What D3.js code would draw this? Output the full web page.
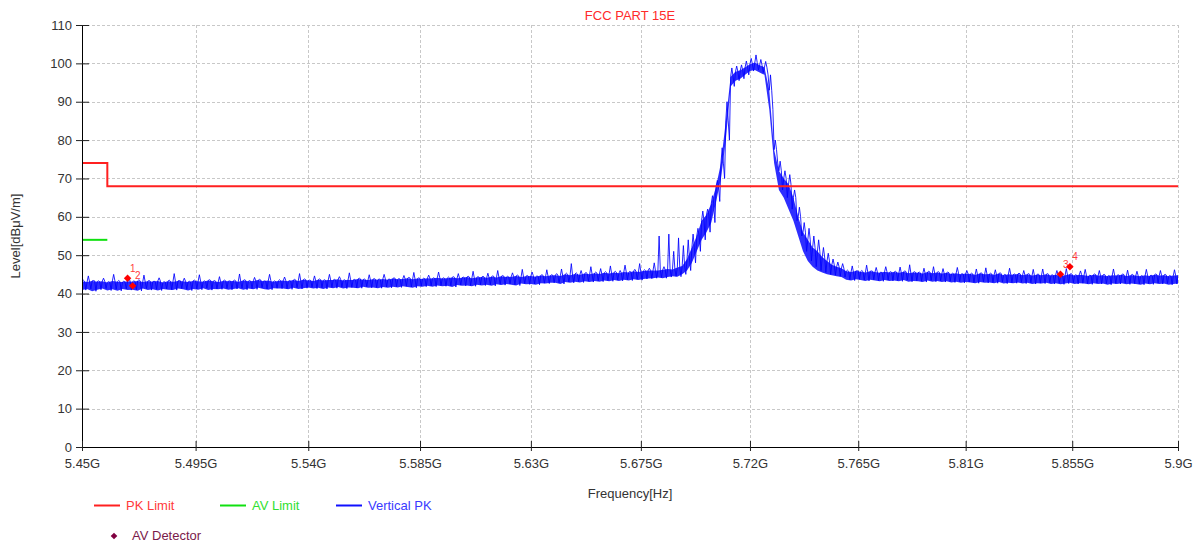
<!DOCTYPE html>
<html><head><meta charset="utf-8">
<script src="https://cdn.jsdelivr.net/npm/d3@7/dist/d3.min.js"></script>
<style>
html,body{margin:0;padding:0;background:#fff;}
svg{display:block;font-family:"Liberation Sans",Arial,sans-serif;}
</style></head>
<body><svg id="chart" width="1203" height="545"></svg>
<script>
// ---------- data ----------
const chartTitle = "FCC PART 15E";
const xTickValues = [5450,5495,5540,5585,5630,5675,5720,5765,5810,5855,5900]; // MHz
const xTickLabels = ["5.45G","5.495G","5.54G","5.585G","5.63G","5.675G","5.72G","5.765G","5.81G","5.855G","5.9G"];
const yTickValues = [0,10,20,30,40,50,60,70,80,90,100,110];

// limits (MHz, dBuV/m)
const pkLimitFreq = [5450,5460,5460,5900];
const pkLimitLevel = [74,74,68,68];
const avLimitFreq = [5450,5460];
const avLimitLevel = [54,54];

// Vertical PK trace, sampled every 2 MHz from 5450 to 5900 MHz (read from the plot):
// traceLo = bottom of the dense noise band, traceCore = top of the dense band, traceHi = spike tops
const traceStartMHz = 5450, traceStepMHz = 2;
const traceLo = [
40.9,41.2,40.6,41.0,41.3,40.8,41.1,40.7,41.2,40.9,
41.0,40.7,41.3,40.9,41.1,40.8,41.2,41.0,40.9,41.3,
41.1,40.8,41.2,41.0,41.4,40.9,41.2,41.1,41.3,41.0,
41.2,41.4,41.0,41.3,41.1,41.5,41.2,41.0,41.4,41.3,
41.3,41.1,41.5,41.2,41.4,41.6,41.3,41.5,41.2,41.6,
41.4,41.7,41.3,41.6,41.5,41.4,41.8,41.5,41.6,41.4,
41.7,41.5,41.8,41.6,41.9,41.7,41.5,41.9,41.8,42.0,
41.8,42.1,41.9,42.0,41.7,42.2,42.0,42.1,41.9,42.3,
42.1,42.3,42.0,42.4,42.2,42.5,42.3,42.1,42.6,42.4,
42.5,42.3,42.7,42.6,42.8,
42.8,42.5,43.0,42.8,43.1,42.9,43.2,43.0,43.3,43.1,
43.4,43.2,43.5,43.3,43.6,43.4,43.7,43.5,43.8,43.9,
44.0,44.2,44.0,44.3,44.5,44.4,45.0,46.0,48.0,51.0,
54.0,56.0,58.5,64.0,70.0,80.0,94.0,95.5,96.0,97.0,
98.0,98.3,97.6,97.0,88.0,74.0,67.0,65.0,62.0,59.0,
55.0,51.0,48.5,47.0,46.0,45.5,45.0,44.8,44.5,44.3,
43.6,43.4,43.7,43.5,43.3,43.6,43.4,43.2,43.5,43.3,
43.4,43.2,43.5,43.1,43.3,43.2,43.0,43.4,43.1,43.3,
43.0,43.2,42.9,43.1,42.8,43.0,42.9,42.7,43.0,42.8,
42.9,42.7,43.0,42.6,42.8,42.7,42.9,42.6,42.8,42.5,
42.7,42.6,42.8,42.5,42.7,42.4,42.6,42.8,42.5,42.7,
42.6,42.4,42.7,42.5,42.6,42.3,42.6,42.5,42.7,42.4,
42.6,42.5,42.3,42.6,42.4,42.7,42.5,42.6,42.3,42.5,42.6
];
const traceCore = [
43.2,43.0,43.3,43.1,43.2,42.9,43.3,43.1,43.0,43.2,
43.1,43.3,43.0,43.2,43.1,43.3,42.9,43.2,43.1,43.3,
43.2,43.0,43.3,43.2,43.1,43.4,43.2,43.0,43.3,43.2,
43.3,43.1,43.4,43.2,43.3,43.5,43.2,43.4,43.1,43.3,
43.4,43.2,43.5,43.3,43.6,43.4,43.3,43.6,43.4,43.5,
43.5,43.7,43.4,43.6,43.5,43.8,43.6,43.5,43.7,43.6,
43.8,43.6,43.9,43.7,43.8,44.0,43.7,43.9,43.8,44.0,
43.9,44.1,43.9,44.0,44.2,44.0,44.1,44.3,44.0,44.2,
44.3,44.1,44.4,44.2,44.5,44.3,44.4,44.6,44.3,44.5,
44.6,44.4,44.7,44.5,44.7,
44.8,44.6,45.0,44.8,45.1,44.9,45.2,45.0,45.3,45.1,
45.4,45.2,45.5,45.3,45.6,45.5,45.8,45.6,45.9,46.0,
46.0,46.0,46.2,46.4,46.3,46.8,47.2,49.0,52.0,55.0,
59.0,60.5,63.5,68.0,74.0,85.0,96.5,97.8,98.2,99.0,
99.8,100.2,99.5,99.0,93.0,77.5,72.0,70.0,68.5,65.0,
60.0,56.0,54.0,52.0,51.0,49.5,48.5,47.5,47.0,46.6,
45.8,45.6,45.9,45.7,45.5,45.8,45.6,45.4,45.7,45.5,
45.6,45.4,45.7,45.3,45.5,45.4,45.2,45.6,45.3,45.5,
45.2,45.4,45.1,45.3,45.0,45.2,45.1,44.9,45.2,45.0,
45.1,44.9,45.2,44.8,45.0,44.9,45.1,44.8,45.0,44.7,
44.9,44.8,45.0,44.7,44.9,44.6,44.8,45.0,44.7,44.9,
44.8,44.6,44.9,44.7,44.8,44.5,44.8,44.7,44.9,44.6,
44.8,44.7,44.5,44.8,44.6,44.9,44.7,44.8,44.5,44.7,44.8
];
const traceHi = [
43.5,44.6,43.4,43.3,44.0,43.1,45.0,43.4,43.2,44.3,
43.3,43.6,44.8,43.4,43.2,44.1,43.1,43.5,45.2,43.4,
44.0,43.2,43.5,44.9,43.3,43.6,43.4,44.4,43.5,43.3,
43.5,45.1,43.6,43.4,44.2,43.7,43.3,45.0,43.3,43.6,
44.3,43.4,43.7,45.2,43.8,43.5,44.6,43.8,43.6,45.0,
43.7,44.4,43.6,45.4,43.7,44.0,43.8,44.9,43.9,43.8,
45.0,43.8,44.1,43.9,44.7,44.2,45.5,44.1,44.0,44.8,
44.1,45.6,44.1,44.3,44.4,45.2,44.3,44.5,45.8,44.4,
44.5,45.3,44.6,46.0,44.7,44.5,45.4,44.8,46.3,44.7,
45.6,44.6,44.9,46.2,44.9,
45.2,46.4,45.3,47.8,45.4,46.0,45.5,47.0,45.6,46.5,
45.7,47.2,45.8,46.0,47.4,45.8,46.3,47.8,46.2,46.6,
48.0,55.0,47.0,55.5,51.0,54.5,52.5,54.0,55.5,57.0,
61.5,62.0,65.5,69.5,78.0,90.0,98.8,99.3,99.6,100.6,
101.3,102.2,101.0,100.5,97.0,80.0,74.5,72.0,71.0,67.0,
62.5,58.5,57.0,55.0,54.0,52.0,50.5,49.0,48.2,47.8,
46.1,47.2,45.9,46.0,47.4,45.9,46.8,45.6,47.0,45.7,
45.8,46.9,45.9,47.5,45.7,45.6,46.6,45.8,47.0,45.7,
46.5,45.6,45.3,46.8,45.2,46.0,45.3,46.4,45.4,46.7,
45.3,46.2,45.4,45.0,46.6,45.1,45.3,46.0,45.2,46.3,
45.1,46.4,45.2,44.9,46.0,44.8,46.5,45.2,44.9,45.9,
46.3,44.8,45.1,46.0,45.0,44.7,46.4,44.9,45.1,46.1,
45.0,45.8,44.7,46.3,44.8,45.1,46.0,45.0,44.7,46.2,45.0
];

// AV detector markers
const markerIds = ["1","2","3","4"];
const markerFreq = [5468,5470,5850,5854];
const markerLevel = [44.0,42.0,45.0,47.0];

// legend
const legendNames = ["PK Limit","AV Limit","Vertical PK","AV Detector"];

// ---------- drawing ----------
(function(){
const svg = d3.select("#chart");
const pL = 82, pR = 1178, pT = 25, pB = 447;
const x = d3.scaleLog().domain([5450,5900]).range([pL,pR]);
const y = d3.scaleLinear().domain([0,110]).range([pB,pT]);

const axisColor = "#000";
const labelColor = "#333";

// grid
const grid = svg.append("g");
grid.selectAll("line.h").data(yTickValues.filter(d=>d>0)).enter().append("line")
  .attr("x1",pL).attr("x2",pR).attr("y1",d=>Math.round(y(d))+0.5).attr("y2",d=>Math.round(y(d))+0.5)
  .attr("stroke","#c8c8c8").attr("stroke-dasharray","3,2").attr("stroke-width",1);
grid.selectAll("line.v").data(xTickValues.slice(1)).enter().append("line")
  .attr("x1",d=>Math.round(x(d))+0.5).attr("x2",d=>Math.round(x(d))+0.5).attr("y1",pT).attr("y2",pB)
  .attr("stroke","#c8c8c8").attr("stroke-dasharray","3,2").attr("stroke-width",1);

// clip
svg.append("clipPath").attr("id","plotclip").append("rect")
  .attr("x",pL).attr("y",pT-5).attr("width",pR-pL).attr("height",pB-pT+5);

// trace
const traceFreq = traceHi.map((_,i)=>traceStartMHz + i*traceStepMHz);
const pts = traceFreq.map((f,i)=>({f,hi:traceHi[i],core:traceCore[i],lo:traceLo[i]}));
const plot = svg.append("g").attr("clip-path","url(#plotclip)");
// dense band
plot.append("path").datum(pts)
  .attr("d", d3.area().x(d=>x(d.f)).y0(d=>y(d.lo)).y1(d=>y(d.core)))
  .attr("fill","#1c1cff").attr("fill-opacity",0.92);
// spikes
const spikes = [];
pts.forEach(d=>{
  spikes.push([d.f, d.core]);
  spikes.push([d.f+0.5, d.hi]);
  spikes.push([d.f+1, d.core]);
  spikes.push([d.f+1.5, d.lo]);
});
plot.append("path").datum(spikes)
  .attr("d", d3.line().x(d=>x(d[0])).y(d=>y(d[1])))
  .attr("fill","none").attr("stroke","#0000ff").attr("stroke-width",1).attr("stroke-opacity",0.85);

// limits
const limLine = d3.line().x(d=>x(d[0])).y(d=>y(d[1]));
plot.append("path").datum(pkLimitFreq.map((f,i)=>[f,pkLimitLevel[i]]))
  .attr("d",limLine).attr("fill","none").attr("stroke","#ff2020").attr("stroke-width",2);
plot.append("path").datum(avLimitFreq.map((f,i)=>[f,avLimitLevel[i]]))
  .attr("d",limLine).attr("fill","none").attr("stroke","#10e010").attr("stroke-width",2);

// axes
const yAxis = d3.axisLeft(y).tickValues(yTickValues).tickSize(6).tickPadding(4);
const gy = svg.append("g").attr("transform",`translate(${pL},0)`).call(yAxis);
gy.select(".domain").attr("stroke",axisColor).attr("d",`M0.5,${pT}V${pB}`);
gy.selectAll(".tick line").attr("x1",7).attr("x2",-6).attr("stroke","#222");
gy.selectAll(".tick text").attr("fill",labelColor).attr("font-size",13).attr("font-family","Liberation Sans, Arial, sans-serif");

const xAxis = d3.axisBottom(x).tickValues(xTickValues).tickFormat((d,i)=>xTickLabels[i]).tickSize(4).tickPadding(8);
const gx = svg.append("g").attr("transform",`translate(0,${pB})`).call(xAxis);
gx.select(".domain").attr("stroke",axisColor).attr("d",`M${pL},0.5H${pR}`);
gx.selectAll(".tick line").attr("y1",-6).attr("y2",4).attr("stroke","#222");
gx.selectAll(".tick text").attr("fill",labelColor).attr("font-size",13).attr("font-family","Liberation Sans, Arial, sans-serif");

// markers
const mk = svg.append("g");
markerFreq.forEach((f,i)=>{
  mk.append("path").attr("d",d3.symbol().type(d3.symbolSquare).size(28)())
    .attr("transform",`translate(${x(f)},${y(markerLevel[i])}) rotate(45)`).attr("fill","#ff0000");
  mk.append("text").attr("x",x(f)+2.5).attr("y",y(markerLevel[i])-6.5)
    .attr("font-size",10).attr("fill","#ff3b3b").text(markerIds[i]);
});

// title and axis titles
svg.append("text").attr("x",(pL+pR)/2).attr("y",20).attr("text-anchor","middle")
  .attr("font-size",13).attr("fill","#ff2a2a").text(chartTitle);
svg.append("text").attr("transform",`translate(20,${(pT+pB)/2}) rotate(-90)`).attr("text-anchor","middle")
  .attr("font-size",13).attr("fill","#333").text("Level[dBμV/m]");
svg.append("text").attr("x",(pL+pR)/2).attr("y",498).attr("text-anchor","middle")
  .attr("font-size",13).attr("fill","#333").text("Frequency[Hz]");

// legend
const lg = svg.append("g");
const legendLines = [
  {x1:94,x2:120,tx:126,color:"#ff2020",text:"#ff3a3a"},
  {x1:220,x2:246,tx:252,color:"#10e010",text:"#30e030"},
  {x1:336,x2:362,tx:368,color:"#1010ff",text:"#3a3aff"}
];
legendLines.forEach((l,i)=>{
  lg.append("line").attr("x1",l.x1).attr("x2",l.x2).attr("y1",505.5).attr("y2",505.5)
    .attr("stroke",l.color).attr("stroke-width",2);
  lg.append("text").attr("x",l.tx).attr("y",510).attr("font-size",13).attr("fill",l.text).text(legendNames[i]);
});
lg.append("path").attr("d",d3.symbol().type(d3.symbolSquare).size(22)())
  .attr("transform","translate(114,536) rotate(45)").attr("fill","#800040");
lg.append("text").attr("x",132).attr("y",540).attr("font-size",13).attr("fill","#7a1a4a").text(legendNames[3]);
})();
</script></body></html>
